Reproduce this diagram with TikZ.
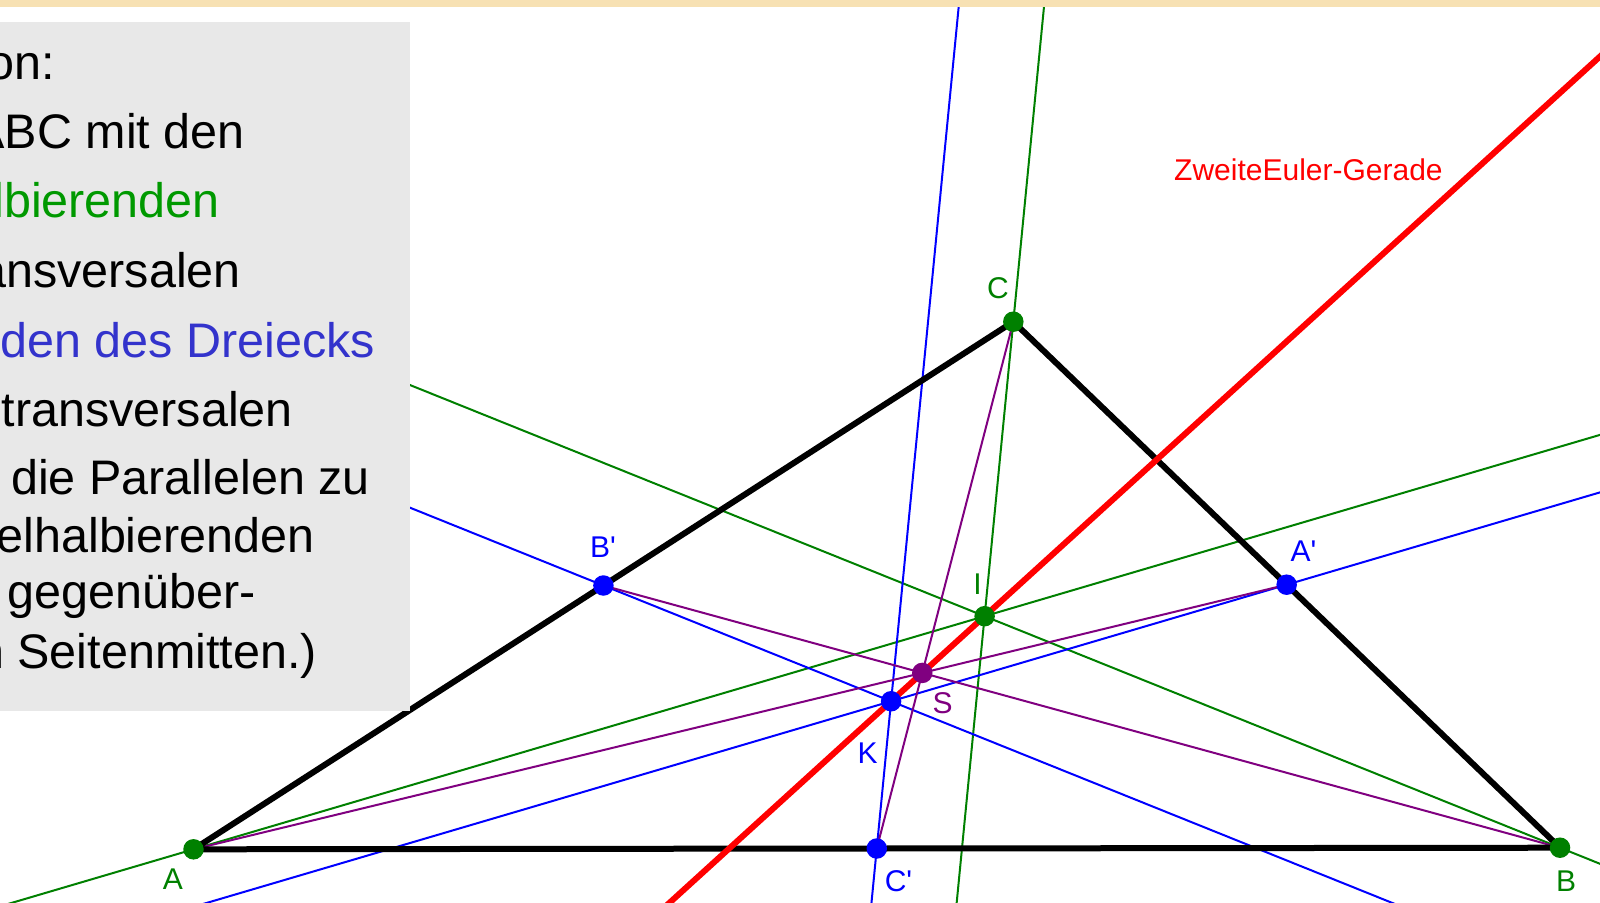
\documentclass[tikz,border=0pt]{standalone}
\usepackage{fontspec}
\setmainfont{Liberation Sans}
\newfontfamily\plainfont{Liberation Sans}
\usetikzlibrary{calc}
\definecolor{gline}{RGB}{0,128,0}
\definecolor{bline}{RGB}{0,0,255}
\definecolor{pline}{RGB}{128,0,128}
\definecolor{rline}{RGB}{255,0,0}
\definecolor{gtext}{RGB}{0,153,0}
\definecolor{btext}{RGB}{51,51,204}
\definecolor{panelgray}{RGB}{232,232,232}
\definecolor{topbar}{RGB}{247,225,179}
\tikzset{
  thinline/.style={line width=2pt},
  gl/.style={thinline,draw=gline},
  bl/.style={thinline,draw=bline},
  pl/.style={thinline,draw=pline},
  tri/.style={line width=6pt,draw=black,line join=round},
  rl/.style={line width=6pt,draw=rline},
  ptdot/.style={circle,inner sep=0pt,minimum size=20.5pt},
  lbl/.style={inner sep=0pt,font=\plainfont\fontsize{30}{36}\selectfont},
  paneltext/.style={inner sep=0pt,anchor=base east,font=\fontsize{48.5}{58}\selectfont},
}
\begin{document}
\begin{tikzpicture}[x=1pt,y=-1pt]
\useasboundingbox (0,0) rectangle (1600,902);
\fill[white] (0,0) rectangle (1600,902);
% geometry
\coordinate (A) at (193.5,849.3);
\coordinate (B) at (1560,847.7);
\coordinate (C) at (1013.3,321.7);
\coordinate (I) at (984.6,616.2);
\coordinate (Am) at ($(B)!0.5!(C)$);
\coordinate (Bm) at ($(A)!0.5!(C)$);
\coordinate (Cm) at ($(A)!0.5!(B)$);
\coordinate (S) at ($(A)!2/3!(Am)$);
\coordinate (K) at ($(I)!1.5!(S)$);
\begin{scope}
  \clip (0,7) rectangle (1600,902);
  % angle bisectors
  \draw[gl] ($(A)!-1!(I)$) -- ($(A)!3!(I)$);
  \draw[gl] ($(B)!-1!(I)$) -- ($(B)!3!(I)$);
  \draw[gl] ($(C)!-2!(I)$) -- ($(C)!3!(I)$);
  % parallels through the midpoints
  \draw[bl] ($(Am)!-3!(K)$) -- ($(Am)!3!(K)$);
  \draw[bl] ($(Bm)!-3!(K)$) -- ($(Bm)!3!(K)$);
  \draw[bl] ($(Cm)!-1!(K)$) -- ($(Cm)!7!(K)$);
  % medians
  \draw[pl] (A) -- (Am);
  \draw[pl] (B) -- (Bm);
  \draw[pl] (C) -- (Cm);
  % triangle
  \draw[tri] (A) -- (B) -- (C) -- cycle;
  % second Euler line
  \draw[rl] ($(I)!-8!(K)$) -- ($(I)!8!(K)$);
\end{scope}
% text panel
\fill[panelgray] (0,22) rectangle (410,711);
\begin{scope}
  \clip (0,22) rectangle (410,711);
  \node[paneltext] (t1) at (55,79) {on:};
  \node[paneltext] (t2) at (245,148) {ABC mit den};
  \node[paneltext,text=gtext] (t3) at (220,217) {lbierenden};
  \node[paneltext] (t4) at (241,287) {ansversalen};
  \node[paneltext,text=btext] (t5) at (375.5,357) {den des Dreiecks};
  \node[paneltext] (t6) at (293,426) {ntransversalen};
  \node[paneltext] (t7) at (370,494) {die Parallelen zu};
  \node[paneltext] (t8) at (315,552) {elhalbierenden};
  \node[paneltext] (t9) at (256,608) {gegenüber-};
  \node[paneltext] (t10) at (317,668) {n Seitenmitten.)};
\end{scope}
% points
\node[ptdot,fill=gline] (dA) at (A) {};
\node[ptdot,fill=gline] (dB) at (B) {};
\node[ptdot,fill=gline] (dC) at (C) {};
\node[ptdot,fill=gline] (dI) at (I) {};
\node[ptdot,fill=bline] (dAm) at (Am) {};
\node[ptdot,fill=bline] (dBm) at (Bm) {};
\node[ptdot,fill=bline] (dCm) at (Cm) {};
\node[ptdot,fill=bline] (dK) at (K) {};
\node[ptdot,fill=pline] (dS) at (S) {};
% labels
\node[lbl,text=gline] (lA) at (173,879) {A};
\node[lbl,text=gline] (lB) at (1566,881) {B};
\node[lbl,text=gline] (lC) at (998,288) {C};
\node[lbl,text=gline] (lI) at (977.5,584) {I};
\node[lbl,text=pline] (lS) at (942.5,703) {S};
\node[lbl,text=bline] (lK) at (867.5,753.5) {K};
\node[lbl,text=bline] (lAm) at (1303.5,551) {A'};
\node[lbl,text=bline] (lBm) at (603,547.5) {B'};
\node[lbl,text=bline] (lCm) at (898.5,881) {C'};
\node[lbl,text=rline,anchor=base west] (lEuler) at (1174,180) {ZweiteEuler-Gerade};
% top bar
\fill[topbar] (0,0) rectangle (1600,7);
\end{tikzpicture}
\end{document}
